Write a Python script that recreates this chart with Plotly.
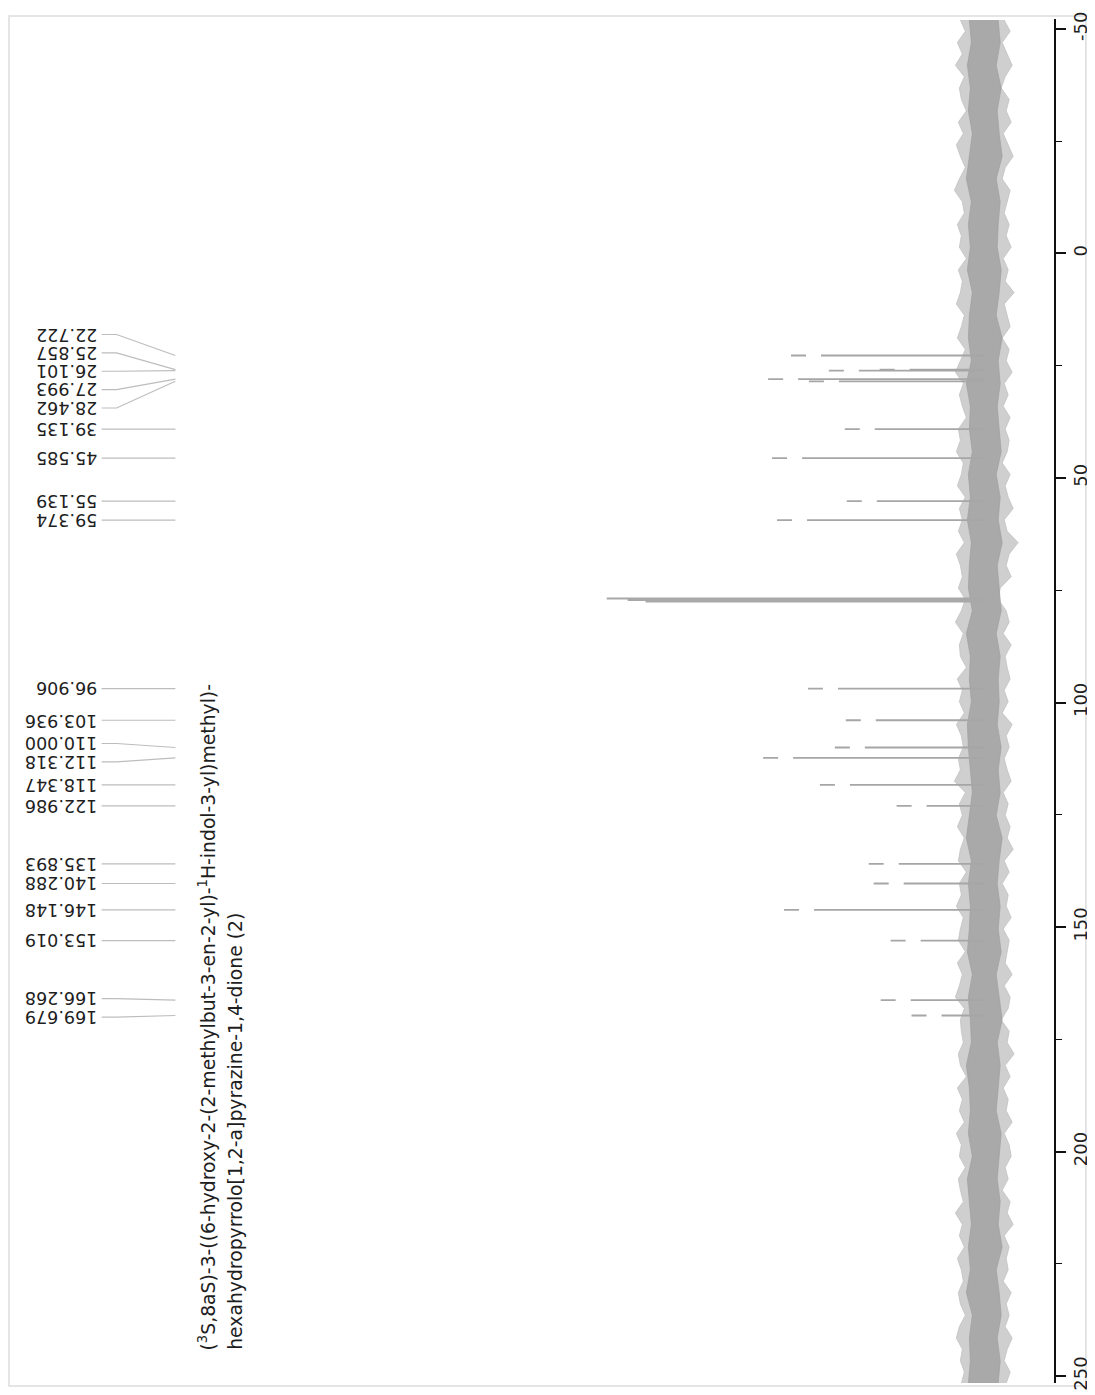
import plotly.graph_objects as go

# ---------------- data ----------------
peak_ppm = [22.722, 25.857, 26.101, 27.993, 28.462, 39.135, 45.585, 55.139, 59.374,
            96.906, 103.936, 110.000, 112.318, 118.347, 122.986, 135.893, 140.288,
            146.148, 153.019, 166.268, 169.679]
peak_int = [194, 105, 156, 217, 176, 140, 213, 138, 208,
            177, 139, 150, 222, 165, 88, 116, 111,
            201, 94, 104, 73]

solvent_ppm = [76.84, 77.16, 77.48]
solvent_int = [379, 358, 340]

tick_vals = [-50, 0, 50, 100, 150, 200, 250]
tick_text = ["-50", "0", "50", "100", "150", "200", "250"]

# baseline noise envelope, sampled every ~2.53 ppm from -52 to 251.6
noise_start = -52.0
noise_step = 2.53
noise_hi = [24, 19, 27, 22, 29, 20, 25, 23, 18, 26,
            21, 28, 24, 19, 25, 30, 22, 20, 27, 23,
            25, 18, 26, 22, 24, 28, 20, 23, 27, 19,
            24, 29, 21, 25, 22, 18, 26, 24, 28, 21,
            23, 27, 19, 25, 22, 26, 20, 28, 24, 22,
            26, 19, 23, 29, 21, 25, 24, 18, 27, 22,
            25, 20, 28, 23, 21, 26, 24, 30, 19, 25,
            22, 27, 20, 24, 26, 18, 25, 23, 28, 21,
            24, 26, 19, 27, 22, 25, 29, 20, 24, 23,
            21, 26, 24, 18, 27, 22, 25, 20, 28, 23,
            25, 19, 26, 24, 21, 29, 22, 25, 20, 27,
            23, 21, 26, 24, 19, 25, 28, 22, 24, 20,
            23]
noise_lo = [-20, -26, -18, -23, -28, -21, -17, -25, -22, -27,
            -19, -24, -29, -21, -18, -26, -23, -20, -25, -22,
            -27, -19, -24, -21, -30, -20, -23, -26, -18, -25,
            -22, -28, -20, -24, -19, -26, -21, -25, -23, -18,
            -26, -21, -24, -29, -20, -23, -34, -25, -22, -27,
            -16, -14, -22, -25, -19, -27, -21, -23, -26, -20,
            -24, -18, -28, -22, -25, -20, -23, -27, -19, -24,
            -21, -26, -23, -29, -20, -25, -18, -24, -22, -27,
            -19, -25, -23, -21, -28, -20, -26, -24, -17, -25,
            -23, -30, -21, -26, -19, -24, -22, -28, -20, -25,
            -27, -21, -24, -18, -26, -23, -29, -20, -25, -22,
            -24, -19, -27, -22, -25, -21, -28, -23, -20, -26,
            -22]
# denser core of the noise band, sampled every ~5.06 ppm
core_step = 5.06
core_hi = [15, 13, 17, 14, 16, 12, 15, 18, 13, 16,
           14, 17, 12, 15, 16, 13, 18, 14, 15, 12,
           16, 14, 17, 13, 15, 16, 12, 18, 14, 15,
           13, 17, 16, 14, 12, 15, 18, 13, 16, 14,
           15, 17, 12, 16, 14, 13, 18, 15, 14, 16,
           12, 17, 15, 13, 16, 14, 18, 12, 15, 14,
           16]
core_lo = [-14, -16, -12, -17, -13, -15, -18, -12, -16, -14,
           -13, -17, -15, -12, -18, -14, -16, -13, -15, -17,
           -12, -16, -14, -18, -13, -15, -17, -12, -16, -14,
           -15, -13, -17, -14, -16, -12, -18, -15, -13, -16,
           -14, -17, -12, -15, -18, -13, -16, -14, -12, -17,
           -15, -13, -16, -14, -18, -12, -15, -17, -13, -16,
           -14]

title_line1 = "(<sup>3</sup>S,8aS)-3-((6-hydroxy-2-(2-methylbut-3-en-2-yl)-<sup>1</sup>H-indol-3-yl)methyl)-"
title_line2 = "hexahydropyrrolo[1,2-a]pyrazine-1,4-dione (2)"

# ---------------- layout geometry ----------------
# the page body has an 8px default margin; figure sized to fit the window
OFF = 8
W, H = 1087, 1387
ML, MR, MT, MB = 4, 37, 7, 7
PW = W - ML - MR
PH = H - MT - MB
Y_RANGE = [251.5, -52.2]
X_RANGE = [976, -70]


def px_x(px):
    """window pixel x -> paper x"""
    return (px - OFF - ML) / PW


def px_y(py):
    """window pixel y -> paper y"""
    return (H - MB - (py - OFF)) / PH


PX_PER_PPM = PH / (Y_RANGE[0] - Y_RANGE[1])

fig = go.Figure()

# noise band (outer + core)
n_ppm = [noise_start + noise_step * i for i in range(len(noise_hi))]
c_ppm = [noise_start + core_step * i for i in range(len(core_hi))]
fig.add_trace(go.Scatter(x=noise_hi + noise_lo[::-1], y=n_ppm + n_ppm[::-1],
                         fill="toself", fillcolor="#cfcfcf", mode="lines",
                         line=dict(color="#c2c2c2", width=0.8),
                         hoverinfo="skip", showlegend=False))
fig.add_trace(go.Scatter(x=core_hi + core_lo[::-1], y=c_ppm + c_ppm[::-1],
                         fill="toself", fillcolor="#a9a9a9", mode="lines",
                         line=dict(color="#9c9c9c", width=0.6),
                         hoverinfo="skip", showlegend=False))

# solvent triplet
for p, v in zip(solvent_ppm, solvent_int):
    fig.add_trace(go.Scatter(x=[v, 0], y=[p, p], mode="lines",
                             line=dict(color="#a8a8a8", width=2),
                             hoverinfo="skip", showlegend=False))

# assigned peaks
for p, v in zip(peak_ppm, peak_int):
    fig.add_trace(go.Scatter(x=[v, 0], y=[p, p], mode="lines",
                             line=dict(color="#a6a6a6", width=1.8, dash="15px,15px,3000px"),
                             hoverinfo="skip", showlegend=False))

# ---------------- label de-overlap ----------------
MIN_GAP = 18.5 / PX_PER_PPM
order = sorted(range(len(peak_ppm)), key=lambda i: peak_ppm[i])
groups = [[i] for i in order]


def group_pos(g):
    c = sum(peak_ppm[i] for i in g) / len(g)
    n = len(g)
    return [c + (k - (n - 1) / 2) * MIN_GAP for k in range(n)]


changed = True
while changed:
    changed = False
    for k in range(len(groups) - 1):
        a = group_pos(groups[k])
        b = group_pos(groups[k + 1])
        if b[0] - a[-1] < MIN_GAP - 1e-9:
            groups[k] = groups[k] + groups[k + 1]
            del groups[k + 1]
            changed = True
            break

label_y = {}
for g in groups:
    for i, pos in zip(g, group_pos(g)):
        label_y[i] = pos

shapes = []
annotations = []
for i, p in enumerate(peak_ppm):
    ly = label_y[i]
    shapes.append(dict(type="path", xref="paper", yref="y",
                       path=f"M {px_x(102)},{ly} L {px_x(117)},{ly} L {px_x(176)},{p}",
                       line=dict(color="#bdbdbd", width=1.2)))
    annotations.append(dict(x=px_x(100), y=ly, xref="paper", yref="y",
                            text=f"{p:.3f}", showarrow=False, textangle=180,
                            xanchor="right", yanchor="middle",
                            font=dict(family="DejaVu Sans", size=17.5, color="#1e1e1e")))

annotations.append(dict(x=px_x(208), y=px_y(1357), xref="paper", yref="paper",
                        text=title_line1, showarrow=False, textangle=-90,
                        xanchor="center", yanchor="bottom",
                        font=dict(family="DejaVu Sans", size=18.8, color="#1e1e1e")))
annotations.append(dict(x=px_x(237), y=px_y(1357), xref="paper", yref="paper",
                        text=title_line2, showarrow=False, textangle=-90,
                        xanchor="center", yanchor="bottom",
                        font=dict(family="DejaVu Sans", size=18.8, color="#1e1e1e")))

# outer frame
shapes.append(dict(type="rect", xref="paper", yref="paper",
                   x0=px_x(9), x1=px_x(1090), y0=px_y(1391), y1=px_y(12),
                   line=dict(color="#dddddd", width=1.5), layer="below"))

fig.update_layout(
    width=W, height=H,
    margin=dict(l=ML, r=MR, t=MT, b=MB),
    paper_bgcolor="white", plot_bgcolor="white",
    showlegend=False,
    shapes=shapes, annotations=annotations,
    xaxis=dict(range=X_RANGE, visible=False, showgrid=False, zeroline=False),
    yaxis=dict(range=Y_RANGE, side="right", showgrid=False, zeroline=False,
               showline=True, linecolor="#111111", linewidth=1.6,
               ticks="outside", ticklen=10, tickwidth=1.6, tickcolor="#111111",
               tickvals=tick_vals, ticktext=tick_text, tickangle=-90,
               ticklabeloverflow="allow",
               tickfont=dict(family="DejaVu Sans", size=18, color="#1e1e1e"),
               minor=dict(ticks="outside", ticklen=6, tickwidth=1.4,
                          tickcolor="#111111", dtick=25, tick0=0, showgrid=False)),
)

fig.write_html("out.html")
